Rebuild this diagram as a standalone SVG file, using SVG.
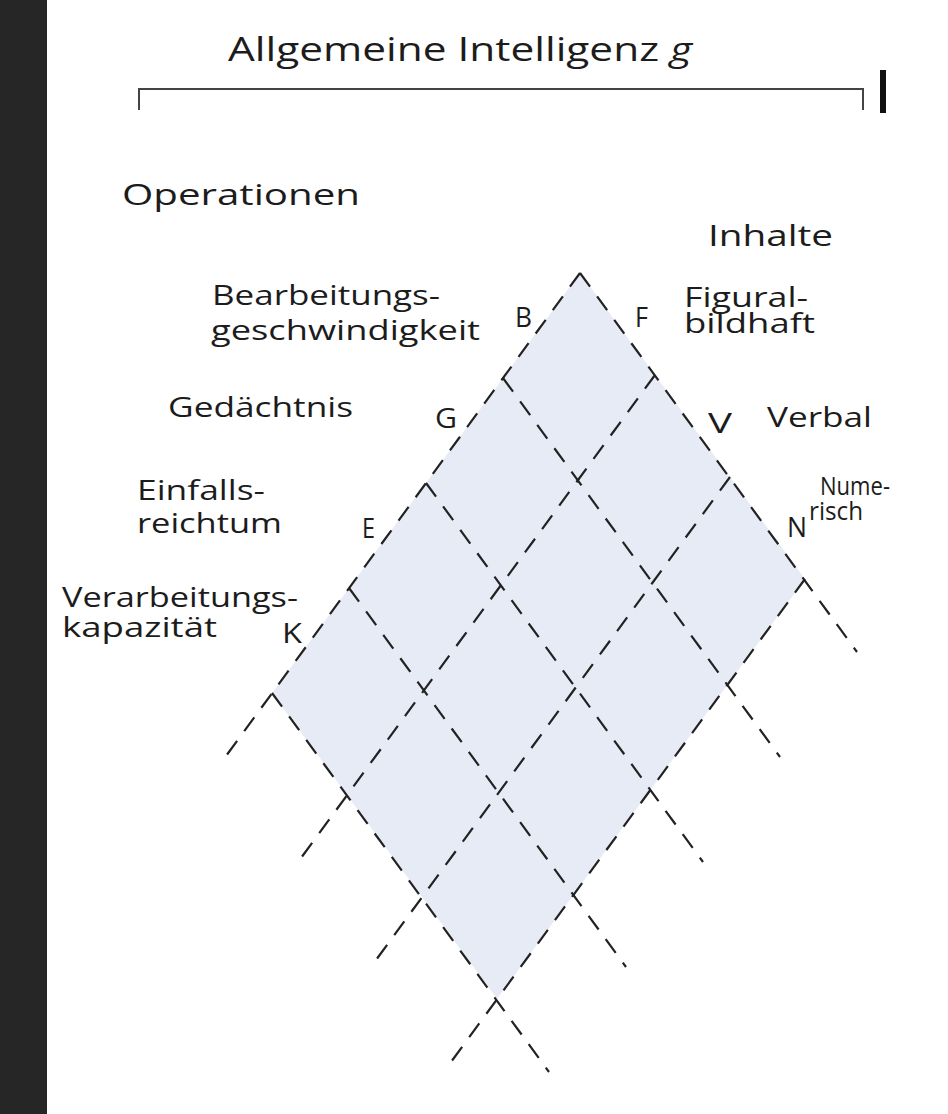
<svg xmlns="http://www.w3.org/2000/svg" width="948" height="1114" viewBox="0 0 948 1114">
<style>
.t{font-family:"Open Sans","Liberation Sans",sans-serif;fill:#1c1c1c;}
.l{font-size:28px;}
.d{fill:none;stroke:#222;stroke-width:2.2;stroke-dasharray:17 12;}
</style>
<rect x="0" y="0" width="948" height="1114" fill="#ffffff"/>
<rect id="sidebar" x="0" y="0" width="47" height="1114" fill="#262626"/>
<g id="title">
<text class="t" x="228" y="61" font-size="32" textLength="464" lengthAdjust="spacingAndGlyphs">Allgemeine Intelligenz <tspan font-style="italic">g</tspan></text>
<path d="M139 110 V89 H863 V110" fill="none" stroke="#444" stroke-width="2"/>
<rect x="880" y="70" width="6" height="43" fill="#111"/>
</g>
<g id="diamond">
<polygon points="580,273 805,579 497,999 272,693" fill="#e7ebf5"/>
</g>
<g id="connectors">
<line class="d" x1="580" y1="273" x2="226" y2="756"/>
<line class="d" x1="655" y1="375" x2="301" y2="858"/>
<line class="d" x1="730" y1="477" x2="376" y2="960"/>
<line class="d" x1="805" y1="579" x2="451" y2="1062"/>
<line class="d" x1="580" y1="273" x2="857" y2="652"/>
<line class="d" x1="503" y1="378" x2="780" y2="757"/>
<line class="d" x1="426" y1="483" x2="703" y2="862"/>
<line class="d" x1="349" y1="588" x2="626" y2="967"/>
<line class="d" x1="272" y1="693" x2="549" y2="1072"/>
</g>
<g id="operationen"><text class="t" x="122" y="205" font-size="30" textLength="238" lengthAdjust="spacingAndGlyphs">Operationen</text></g>
<g id="inhalte"><text class="t" x="708" y="246" font-size="30" textLength="125" lengthAdjust="spacingAndGlyphs">Inhalte</text></g>
<g id="op-B">
<text class="t l" x="212" y="305" textLength="228" lengthAdjust="spacingAndGlyphs">Bearbeitungs-</text>
<text class="t l" x="211" y="340" textLength="269" lengthAdjust="spacingAndGlyphs">geschwindigkeit</text>
<text class="t l" x="515" y="327" textLength="17" lengthAdjust="spacingAndGlyphs">B</text>
</g>
<g id="op-G">
<text class="t l" x="168" y="417" textLength="185" lengthAdjust="spacingAndGlyphs">Gedächtnis</text>
<text class="t l" x="435" y="428" textLength="22" lengthAdjust="spacingAndGlyphs">G</text>
</g>
<g id="op-E">
<text class="t l" x="137" y="500" textLength="128" lengthAdjust="spacingAndGlyphs">Einfalls-</text>
<text class="t l" x="137" y="533" textLength="145" lengthAdjust="spacingAndGlyphs">reichtum</text>
<text class="t l" x="362" y="538" textLength="13" lengthAdjust="spacingAndGlyphs">E</text>
</g>
<g id="op-K">
<text class="t l" x="62" y="607" textLength="236" lengthAdjust="spacingAndGlyphs">Verarbeitungs-</text>
<text class="t l" x="62" y="637" textLength="155" lengthAdjust="spacingAndGlyphs">kapazität</text>
<text class="t l" x="282" y="643" textLength="20" lengthAdjust="spacingAndGlyphs">K</text>
</g>
<g id="in-F">
<text class="t l" x="635" y="327" textLength="13" lengthAdjust="spacingAndGlyphs">F</text>
<text class="t" x="684" y="307" font-size="27" textLength="124" lengthAdjust="spacingAndGlyphs">Figural-</text>
<text class="t" x="684" y="333" font-size="27" textLength="131" lengthAdjust="spacingAndGlyphs">bildhaft</text>
</g>
<g id="in-V">
<text class="t l" x="708" y="433" textLength="24" lengthAdjust="spacingAndGlyphs">V</text>
<text class="t l" x="767" y="427" textLength="105" lengthAdjust="spacingAndGlyphs">Verbal</text>
</g>
<g id="in-N">
<text class="t l" x="787" y="537" textLength="20" lengthAdjust="spacingAndGlyphs">N</text>
<text class="t" x="820" y="495" font-size="26" textLength="70" lengthAdjust="spacingAndGlyphs">Nume-</text>
<text class="t" x="809" y="520" font-size="26" textLength="54" lengthAdjust="spacingAndGlyphs">risch</text>
</g>
</svg>
